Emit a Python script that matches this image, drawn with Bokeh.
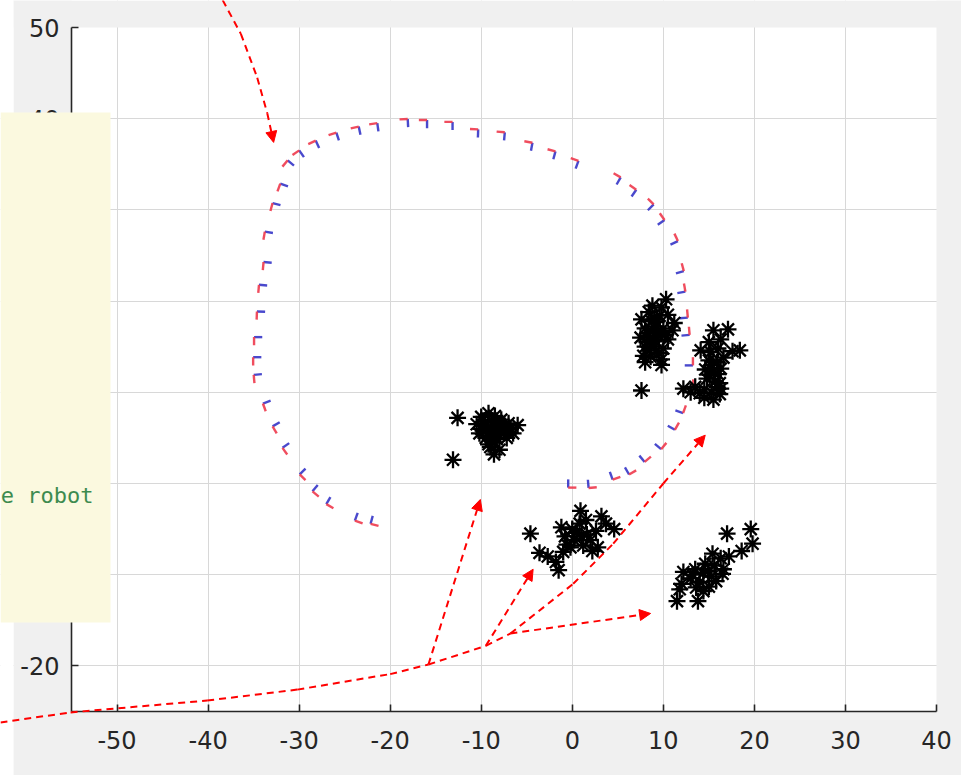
import numpy as np
from bokeh.plotting import figure
from bokeh.models import (Range1d, FixedTicker, Arrow, NormalHead, BoxAnnotation,
                          Label, ColumnDataSource)
from bokeh.embed import file_html
from bokeh.resources import INLINE

# ---------------- data ----------------
x_ticks = [-50, -40, -30, -20, -10, 0, 10, 20, 30, 40]
y_ticks = [-20, -10, 0, 10, 20, 30, 40, 50]
x_lim = (-55, 40)
y_lim = (-25, 50)

# robot poses along the trajectory (position, heading in degrees)
pose_x = [0.0, 2.2, 4.7, 6.4, 8.0, 9.7, 11.1, 11.9, 12.8, 12.8, 12.4, 12.2, 11.9, 11.7,
          11.0, 9.5, 8.3, 6.4, 4.7, 0.1, -2.4, -4.9, -7.9, -10.8, -13.6, -16.4, -18.5,
          -21.8, -23.8, -26.2, -28.4, -30.1, -31.2, -31.8, -32.6, -33.4, -33.5, -34.0,
          -34.2, -34.5, -34.6, -34.5, -33.4, -32.3, -31.2, -29.3, -27.9, -26.4, -23.3, -21.6]
pose_y = [0.0, 0.0, 1.0, 1.6, 3.0, 4.4, 6.5, 8.3, 11.0, 13.4, 16.7, 18.6, 21.4, 23.6,
          26.8, 29.0, 30.6, 32.1, 33.4, 35.1, 36.1, 37.0, 38.1, 38.4, 39.2, 39.4, 39.5,
          39.0, 38.6, 37.9, 37.0, 35.9, 34.8, 32.3, 30.2, 27.1, 23.8, 21.3, 18.4, 15.6,
          13.4, 11.5, 8.5, 6.1, 3.8, 1.0, -0.8, -2.1, -3.8, -4.1]
pose_heading = [0, 5, 20, 30, 40, 50, 60, 70, 85, 90, 95, 95, 100, 105, 115, 125, 135,
                145, 150, 160, 165, 170, 175, 178, 180, 180, 183, 188, 192, 198, 205, 215,
                230, 250, 255, 260, 265, 265, 268, 270, 270, 275, 290, 300, 305, 315, 320,
                330, 340, 345]

# landmark observations (clusters)
c1_x = [-12.6, -13.1, -10.5, -10.0, -9.2, -8.5, -7.8, -7.0, -6.0, -9.8, -9.0, -8.3, -7.5,
        -9.5, -8.7, -8.0, -7.2, -9.2, -8.5, -8.0, -8.6, -9.0, -10.2, -6.5, -8.3,
        -9.6, -8.9, -8.1, -7.4, -6.8, -9.3, -8.6, -7.9, -8.3, -8.8, -10.0, -7.0]
c1_y = [7.2, 2.6, 6.5, 7.3, 7.7, 7.4, 7.0, 6.6, 6.4, 5.8, 6.2, 6.0, 5.8,
        5.0, 5.2, 5.3, 5.0, 4.3, 4.5, 3.7, 3.2, 4.0, 5.5, 5.5, 6.8,
        6.8, 6.9, 6.4, 6.3, 6.0, 5.5, 5.7, 5.6, 4.9, 4.7, 6.0, 5.6]
c2_x = [10.3, 9.8, 8.4, 7.6, 9.0, 10.5, 8.0, 9.2, 10.0, 11.0, 7.5, 8.5, 9.5, 10.5, 8.0,
        9.0, 10.0, 7.8, 8.6, 9.8, 8.0, 9.8, 7.6, 11.2, 8.8,
        8.7, 9.6, 8.3, 9.3, 10.2, 8.2, 9.0, 9.5, 8.5, 9.2]
c2_y = [20.2, 19.3, 18.8, 18.0, 18.0, 18.5, 17.0, 17.2, 17.0, 16.8, 16.0, 16.0, 16.2,
        15.8, 15.0, 15.0, 14.8, 14.0, 13.9, 13.6, 13.3, 13.0, 10.2, 17.6, 19.5,
        17.8, 18.4, 16.5, 16.6, 16.3, 15.5, 15.6, 14.3, 14.6, 17.7]
c3_x = [15.5, 17.1, 15.0, 16.3, 14.1, 15.2, 16.0, 17.6, 18.4, 15.0, 15.9, 16.6, 14.6, 15.5,
        16.3, 14.8, 15.7, 16.2, 13.5, 14.5, 15.3, 16.3, 12.2, 13.0, 14.5, 15.5, 16.2,
        15.4, 15.1, 16.0, 15.9, 14.0]
c3_y = [16.8, 16.9, 15.5, 15.8, 14.6, 14.4, 14.8, 14.5, 14.6, 13.5, 13.3, 13.8, 12.5, 12.3,
        12.6, 11.5, 11.2, 11.0, 10.6, 10.3, 10.0, 10.4, 10.4, 10.0, 9.4, 9.2, 9.8,
        13.0, 11.9, 12.0, 10.6, 9.9]
c4_x = [-4.6, -3.6, -2.7, -1.5, -1.8, -1.0, -0.6, 0.2, -0.8, 0.0, 0.8, 0.9, 1.6, 1.2, 2.0,
        2.6, 3.2, 3.7, 4.6, 2.8, 2.2, -1.2, 1.5, 0.5, 1.0, -0.2]
c4_y = [-5.5, -7.6, -8.0, -9.5, -8.6, -7.5, -6.7, -6.2, -5.8, -5.0, -4.4, -3.0, -5.6, -6.8,
        -6.2, -5.2, -3.6, -4.4, -5.0, -7.0, -7.4, -4.8, -4.0, -5.4, -5.8, -7.0]
c5_x = [19.6, 17.0, 19.8, 18.6, 15.4, 16.3, 17.2, 14.6, 15.6, 16.6, 13.5, 14.4, 15.3, 12.2,
        13.0, 14.0, 15.8, 16.5, 12.0, 11.8, 11.5, 13.8, 14.4, 13.6, 15.0, 14.9, 13.2]
c5_y = [-5.0, -5.5, -6.6, -7.4, -7.7, -8.2, -8.0, -8.8, -9.0, -9.4, -9.4, -9.8, -10.2, -9.7,
        -10.4, -10.8, -10.7, -9.9, -11.0, -11.6, -12.9, -12.9, -11.8, -11.4, -11.3, -9.6, -10.0]

# annotation arrows (data coordinates)
top_arrow_x = [-38.4, -36.4, -34.6, -33.5, -32.8]
top_arrow_y = [53.0, 49.3, 44.5, 40.6, 37.4]
base_curve_x = [-62.8, -55.1, -40.1, -30.2, -20.0, -15.8, -9.5]
base_curve_y = [-26.2, -25.1, -23.8, -22.6, -20.9, -19.85, -17.8]
branch_a_x = [-15.8, -10.1]
branch_a_y = [-19.85, -1.75]
branch_b_x = [-9.5, -4.3]
branch_b_y = [-17.8, -9.4]
branch_c_x = [-9.5, -6.8, 0.1, 4.5, 10.0, 14.6]
branch_c_y = [-17.8, -16.45, -11.0, -6.6, 0.0, 5.3]
branch_d_x = [-6.8, 8.6]
branch_d_y = [-16.45, -14.25]

note_text = "e robot"

# ---------------- figure ----------------
# The frame spans the whole canvas so that the overlay notes may leave the axes box;
# the axes themselves are pinned to the axes-box edges.
W, H = 961, 775
left_px, right_px, top_px, bottom_px = 71, 936, 27, 711
sx = (right_px - left_px) / (x_lim[1] - x_lim[0])
sy = (bottom_px - top_px) / (y_lim[1] - y_lim[0])
X0 = x_lim[0] - left_px / sx
X1 = x_lim[1] + (W - right_px) / sx
Y1 = y_lim[1] + top_px / sy
Y0 = y_lim[0] - (H - bottom_px) / sy
Xw = X0 + 13 / sx  # white strip at the far left of the screenshot

p = figure(width=W, height=H, x_range=Range1d(X0, X1), y_range=Range1d(Y0, Y1),
           output_backend="svg", toolbar_location=None, min_border=0,
           min_border_left=0, min_border_right=0, min_border_top=0, min_border_bottom=0)
p.background_fill_color = "white"
p.border_fill_color = "white"
p.outline_line_color = None

p.xaxis.fixed_location = y_lim[0]
p.yaxis.fixed_location = x_lim[0]
p.xaxis.bounds = x_lim
p.yaxis.bounds = y_lim
for ax, ticks in ((p.xaxis, x_ticks), (p.yaxis, y_ticks)):
    ax.ticker = FixedTicker(ticks=ticks)
    ax.major_label_overrides = {t: str(t) for t in ticks}
    ax.major_label_text_font = "DejaVu Sans"
    ax.major_label_text_font_size = "24px"
    ax.major_label_text_color = "#262626"
    ax.axis_line_color = "#262626"
    ax.axis_line_width = 1.6
    ax.major_tick_line_color = "#262626"
    ax.major_tick_line_width = 1.6
    ax.major_tick_in = 7
    ax.major_tick_out = 0
    ax.minor_tick_line_color = None
p.xaxis.major_label_standoff = 19
p.yaxis.major_label_standoff = 12

p.xgrid.ticker = FixedTicker(ticks=x_ticks[:-1])
p.ygrid.ticker = FixedTicker(ticks=y_ticks[:-1])
p.grid.grid_line_color = "#d8d8d8"
p.grid.grid_line_width = 1

# figure-window margins (grey) drawn over the grid, under the axes
gray = "#f0f0f0"
for l, r, b, t, c in ((Xw, x_lim[0], Y0, Y1, gray), (x_lim[1], X1, Y0, Y1, gray),
                      (Xw, X1, y_lim[1], Y1, gray), (Xw, X1, Y0, y_lim[0], gray),
                      (X0, Xw, Y0, Y1, "white")):
    p.add_layout(BoxAnnotation(left=l, right=r, bottom=b, top=t, fill_color=c,
                               fill_alpha=1, line_color=None, level="glyph"))

# poses: red = heading axis, blue = lateral axis
L = 0.9
px = np.array(pose_x)
py = np.array(pose_y)
th = np.radians(pose_heading)
hx, hy = np.cos(th), np.sin(th)
lx, ly = -np.sin(th), np.cos(th)
cx = px - 0.5 * L * (hx + lx)
cy = py - 0.5 * L * (hy + ly)
p.segment(x0=cx, y0=cy, x1=cx + L * lx, y1=cy + L * ly, line_color="#3535c8",
          line_width=2.4, line_alpha=0.9)
p.segment(x0=cx, y0=cy, x1=cx + L * hx, y1=cy + L * hy, line_color="#ee3a4c",
          line_width=2.4, line_alpha=0.9)

for xs, ys in ((c1_x, c1_y), (c2_x, c2_y), (c3_x, c3_y), (c4_x, c4_y), (c5_x, c5_y)):
    p.scatter(xs, ys, marker="asterisk", size=17, line_color="black", line_width=2.3)

# overlay notes
p.add_layout(BoxAnnotation(left=X0, right=X0 + 110 / sx, top=y_lim[1] - (112 - top_px) / sy,
                           bottom=y_lim[1] - (622 - top_px) / sy,
                           fill_color="#fbf9df", fill_alpha=1, line_color=None))
p.add_layout(Label(x=X0 + 93 / sx, y=y_lim[1] - (495 - top_px) / sy, text=note_text,
                   text_align="right", text_baseline="alphabetic",
                   text_font="DejaVu Sans Mono", text_font_size="22px",
                   text_color="#3d8b4f"))

polylines = [(top_arrow_x, top_arrow_y), (base_curve_x, base_curve_y),
             (branch_a_x, branch_a_y), (branch_b_x, branch_b_y),
             (branch_c_x, branch_c_y), (branch_d_x, branch_d_y)]
heads = [True, False, True, True, True, True]
plain = dict(x0=[], y0=[], x1=[], y1=[])
headed = dict(x0=[], y0=[], x1=[], y1=[])
for (xs, ys), h in zip(polylines, heads):
    n = len(xs)
    for i in range(n - 1):
        tgt = headed if (h and i == n - 2) else plain
        tgt["x0"].append(xs[i]); tgt["y0"].append(ys[i])
        tgt["x1"].append(xs[i + 1]); tgt["y1"].append(ys[i + 1])

p.add_layout(Arrow(end=None, x_start="x0", y_start="y0", x_end="x1", y_end="y1",
                   source=ColumnDataSource(plain), line_color="#ff0000",
                   line_width=2, line_dash="7 5"))
p.add_layout(Arrow(end=NormalHead(size=11, fill_color="#ff0000", line_color="#ff0000",
                                  line_width=1),
                   x_start="x0", y_start="y0", x_end="x1", y_end="y1",
                   source=ColumnDataSource(headed), line_color="#ff0000",
                   line_width=2, line_dash="7 5"))

open("out.html", "w").write(file_html(p, INLINE))
